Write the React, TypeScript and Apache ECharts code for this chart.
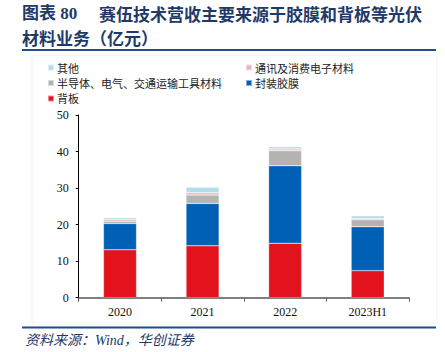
import React, { useEffect, useRef } from "react";
import * as echarts from "echarts";

const categories = ["2020", "2021", "2022", "2023H1"];
const backsheet = [13.1, 14.2, 14.9, 7.4];
const encapsulant = [7.2, 11.6, 21.2, 12.0];
const semiconductor = [0.6, 2.3, 4.1, 1.9];
const electronics = [0.5, 0.6, 0.5, 0.4];
const others = [0.5, 1.5, 0.6, 0.7];
const yTicks = [0, 10, 20, 30, 40, 50];

const seriesNames = ["背板", "封装胶膜", "半导体、电气、交通运输工具材料", "通讯及消费电子材料", "其他"];
const seriesColors = ["#e3131e", "#0060b6", "#b3b3b3", "#e8b6ba", "#b4dde8"];

const SERIF = "'Liberation Serif', 'Times New Roman', 'Noto Sans CJK SC', serif";
const CJK = "'Noto Sans CJK SC', 'Liberation Serif', sans-serif";
const NAVY = "#1f3a68";

export default function App() {
  const ref = useRef<HTMLDivElement>(null);
  useEffect(() => {
    document.body.style.margin = "0";
    const chart = echarts.init(ref.current!, null, { renderer: "svg" });
    const dataSets = [backsheet, encapsulant, semiconductor, electronics, others];
    chart.setOption({
      animation: false,
      backgroundColor: "#ffffff",
      textStyle: { fontFamily: SERIF },
      grid: { left: 78.7, right: 36, top: 115, bottom: 54.3, containLabel: false },
      legend: [
        {
          orient: "vertical",
          left: 42,
          top: 57,
          itemWidth: 6,
          itemHeight: 6,
          itemGap: 4.5,
          icon: "rect",
          data: ["其他", "半导体、电气、交通运输工具材料", "背板"],
          textStyle: { fontFamily: CJK, fontSize: 11, color: "#222", padding: [0, 0, 0, -2] },
        },
        {
          orient: "vertical",
          left: 240,
          top: 57,
          itemWidth: 6,
          itemHeight: 6,
          itemGap: 4.5,
          icon: "rect",
          data: ["通讯及消费电子材料", "封装胶膜"],
          textStyle: { fontFamily: CJK, fontSize: 11, color: "#222", padding: [0, 0, 0, -2] },
        },
      ],
      xAxis: {
        type: "category",
        data: categories,
        boundaryGap: true,
        axisLine: { show: true, lineStyle: { color: "#808080", width: 2 } },
        axisTick: { show: true, alignWithLabel: false, length: 4, lineStyle: { color: "#606060" } },
        axisLabel: { fontFamily: SERIF, fontSize: 12, color: "#111", margin: 8 },
      },
      yAxis: {
        type: "value",
        min: yTicks[0],
        max: yTicks[yTicks.length - 1],
        interval: 10,
        splitLine: { show: false },
        axisLine: { show: true, lineStyle: { color: "#000", width: 1 } },
        axisTick: { show: true, length: 3, lineStyle: { color: "#000" } },
        axisLabel: { fontFamily: SERIF, fontSize: 12, color: "#111", margin: 10 },
      },
      series: seriesNames.map((name, i) => ({
        name,
        type: "bar",
        stack: "total",
        barWidth: "40%",
        data: dataSets[i],
        itemStyle: { color: seriesColors[i], borderColor: "rgba(255,255,255,0.5)", borderWidth: 0.5 },
      })),
      graphic: [
        {
          type: "text",
          left: 22,
          top: 5,
          style: { text: "图表 80", font: `bold 17px ${SERIF}`, fill: NAVY },
        },
        {
          type: "text",
          left: 99,
          top: 5,
          style: { text: "赛伍技术营收主要来源于胶膜和背板等光伏", font: `bold 17px ${CJK}`, fill: NAVY },
        },
        {
          type: "text",
          left: 22,
          top: 29,
          style: { text: "材料业务（亿元）", font: `bold 17px ${CJK}`, fill: NAVY },
        },
        {
          type: "line",
          shape: { x1: 22, y1: 50, x2: 436, y2: 50 },
          style: { stroke: "#1f4e8c", lineWidth: 2 },
        },
        {
          type: "rect",
          shape: { x: 32, y: 55, width: 405, height: 268 },
          style: { fill: "none", stroke: "#f2f2f2", lineWidth: 1 },
          z: -1,
        },
        {
          type: "line",
          shape: { x1: 22, y1: 327.5, x2: 436, y2: 327.5 },
          style: { stroke: "#1f4e8c", lineWidth: 2 },
        },
        {
          type: "text",
          left: 25,
          top: 333,
          style: { text: "资料来源：Wind，华创证券", font: `italic 14px ${SERIF}`, fill: NAVY },
        },
      ],
    });
    return () => chart.dispose();
  }, []);
  return <div ref={ref} style={{ width: 445, height: 352 }} />;
}
